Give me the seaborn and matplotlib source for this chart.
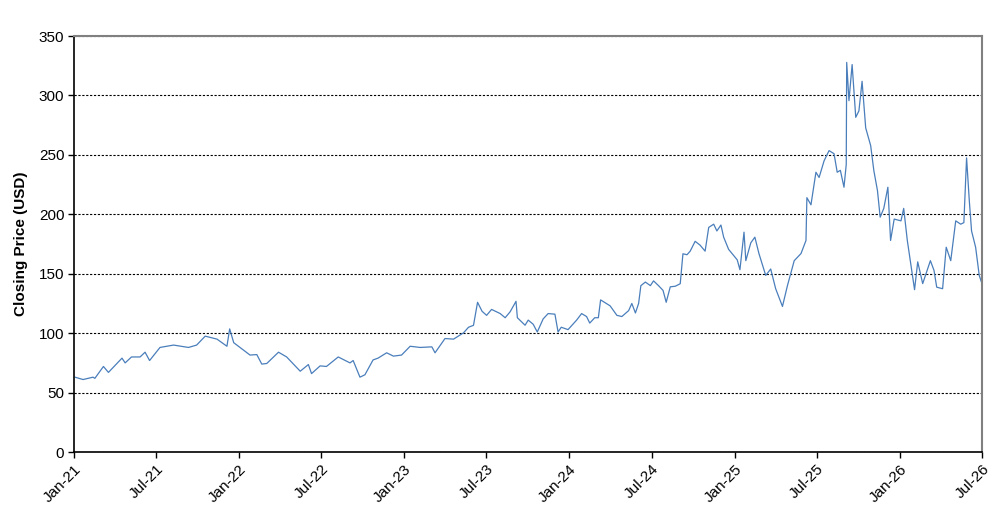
import pandas as pd
import matplotlib
matplotlib.use("Agg")
import matplotlib.pyplot as plt
import matplotlib.dates as mdates
import seaborn as sns

# === Dados ===
dates = [
    "2021-01-03", "2021-01-21", "2021-02-12", "2021-02-16", "2021-03-07", "2021-03-18",
    "2021-04-17", "2021-04-24", "2021-05-08", "2021-05-27", "2021-06-07", "2021-06-17",
    "2021-07-10", "2021-08-09", "2021-09-11", "2021-09-29", "2021-10-18", "2021-11-13",
    "2021-12-05", "2021-12-11", "2021-12-20", "2022-01-03", "2022-01-25", "2022-02-09",
    "2022-02-20", "2022-03-03", "2022-03-29", "2022-04-16", "2022-05-16", "2022-06-03",
    "2022-06-10", "2022-06-29", "2022-07-13", "2022-08-08", "2022-09-03", "2022-09-10",
    "2022-09-25", "2022-10-06", "2022-10-24", "2022-11-04", "2022-11-23", "2022-12-08",
    "2022-12-26", "2023-01-14", "2023-02-05", "2023-03-03", "2023-03-10", "2023-04-01",
    "2023-04-20", "2023-05-12", "2023-05-23", "2023-06-03", "2023-06-12", "2023-06-22",
    "2023-07-02", "2023-07-13", "2023-08-01", "2023-08-12", "2023-08-23", "2023-09-05",
    "2023-09-08", "2023-09-25", "2023-10-02", "2023-10-13", "2023-10-22", "2023-11-04",
    "2023-11-15", "2023-11-30", "2023-12-07", "2023-12-14", "2023-12-29", "2024-01-17",
    "2024-01-28", "2024-02-08", "2024-02-15", "2024-02-26", "2024-03-05", "2024-03-10",
    "2024-03-31", "2024-04-15", "2024-04-26", "2024-05-11", "2024-05-18", "2024-05-26",
    "2024-06-02", "2024-06-07", "2024-06-17", "2024-06-28", "2024-07-05", "2024-07-16",
    "2024-07-26", "2024-08-02", "2024-08-11", "2024-08-22", "2024-09-02", "2024-09-08",
    "2024-09-17", "2024-09-24", "2024-10-05", "2024-10-16", "2024-10-27", "2024-11-04",
    "2024-11-15", "2024-11-22", "2024-12-01", "2024-12-07", "2024-12-18", "2025-01-06",
    "2025-01-12", "2025-01-21", "2025-01-25", "2025-02-05", "2025-02-14", "2025-02-23",
    "2025-03-10", "2025-03-21", "2025-04-01", "2025-04-16", "2025-04-27", "2025-05-12",
    "2025-05-27", "2025-06-07", "2025-06-09", "2025-06-18", "2025-06-29", "2025-07-06",
    "2025-07-17", "2025-07-28", "2025-08-08", "2025-08-15", "2025-08-22", "2025-08-30",
    "2025-09-04", "2025-09-05", "2025-09-10", "2025-09-17", "2025-09-25", "2025-10-02",
    "2025-10-09", "2025-10-17", "2025-10-28", "2025-11-04", "2025-11-12", "2025-11-18",
    "2025-11-26", "2025-12-05", "2025-12-11", "2025-12-19", "2026-01-03", "2026-01-09",
    "2026-01-17", "2026-02-02", "2026-02-09", "2026-02-20", "2026-03-09", "2026-03-17",
    "2026-03-23", "2026-04-05", "2026-04-13", "2026-04-23", "2026-05-04", "2026-05-15",
    "2026-05-22", "2026-05-28", "2026-06-03", "2026-06-08", "2026-06-17", "2026-06-25",
    "2026-07-01",
]
closing_price = [
    63, 61, 63, 62, 72, 67,
    79, 75, 80, 80, 84, 77,
    88, 90, 88, 90, 97.5, 95,
    89, 103.6, 92, 88, 81.6, 82,
    74, 74.5, 84, 80, 68, 73.6,
    66, 72.5, 72, 80, 75, 77,
    63, 65, 77.5, 79, 83.5, 80.7,
    81.6, 89, 88, 88.5, 83.5, 95.5,
    95, 100.3, 105, 106.6, 126, 118.4,
    115, 120, 116.5, 113, 118, 126.8,
    113, 106.7, 111, 107.5, 101, 112,
    116.5, 116, 101, 105, 103, 111,
    116.5, 114, 108.5, 113, 113, 128,
    123, 115, 114, 119, 125, 117,
    125, 140, 143, 140, 144, 140,
    136, 126, 139, 139.5, 141.6, 166.8,
    166, 169, 177.3, 174, 169, 189,
    191.7, 186, 191, 180.8, 170.5, 161.7,
    153.4, 185, 161, 176, 180.8, 167,
    148.6, 154, 137.4, 122.5, 140, 161,
    167, 178, 214, 208, 235.4, 231,
    245, 253.6, 251, 235.4, 237, 222.8,
    242, 327.8, 295.6, 326, 281.6, 287,
    311.9, 272.7, 257.8, 236.8, 220, 197.6,
    205, 222.8, 178, 196, 194.5, 205,
    178, 136.6, 160, 141.7, 161, 152.8,
    138.7, 137.4, 172.3, 161, 194.5, 191.7,
    193, 247.5, 211.6, 186, 172.3, 148.6,
    141.7,
]
y_ticks = [0, 50, 100, 150, 200, 250, 300, 350]

df = pd.DataFrame({"Date": pd.to_datetime(dates), "Close": closing_price})

sns.set_style("white")
plt.rcParams["font.family"] = ["Liberation Sans", "DejaVu Sans"]

fig = plt.figure(figsize=(10.06, 5.19), dpi=100)
ax = fig.add_axes([0.0736, 0.129, 0.9025, 0.8016])

sns.lineplot(data=df, x="Date", y="Close", color="#4a7ebb", linewidth=0.9, ax=ax)

# === Eixos ===
ax.set_ylim(0, 350)
ax.set_yticks(y_ticks)
ax.set_xlim(pd.Timestamp("2021-01-01"), pd.Timestamp("2026-07-01"))
ax.xaxis.set_major_locator(mdates.MonthLocator(bymonth=[1, 7]))
ax.xaxis.set_major_formatter(mdates.DateFormatter("%b-%y"))
plt.setp(ax.get_xticklabels(), rotation=45, ha="right", rotation_mode="anchor")

ax.yaxis.grid(True, linestyle=(0, (2, 1.5)), color="black", linewidth=0.8)
ax.set_axisbelow(True)

ax.tick_params(axis="both", labelsize=11, length=4, width=1, color="black",
               labelcolor="black", bottom=True, left=True, pad=3)
ax.set_xlabel("")
ax.set_ylabel("Closing Price (USD)", fontsize=11, fontweight="bold",
              color="black", labelpad=8)

for side in ["left", "bottom"]:
    ax.spines[side].set_color("black")
    ax.spines[side].set_linewidth(1.2)
for side in ["top", "right"]:
    ax.spines[side].set_color("#808080")
    ax.spines[side].set_linewidth(1.5)

fig.savefig("out.png", dpi=100)
